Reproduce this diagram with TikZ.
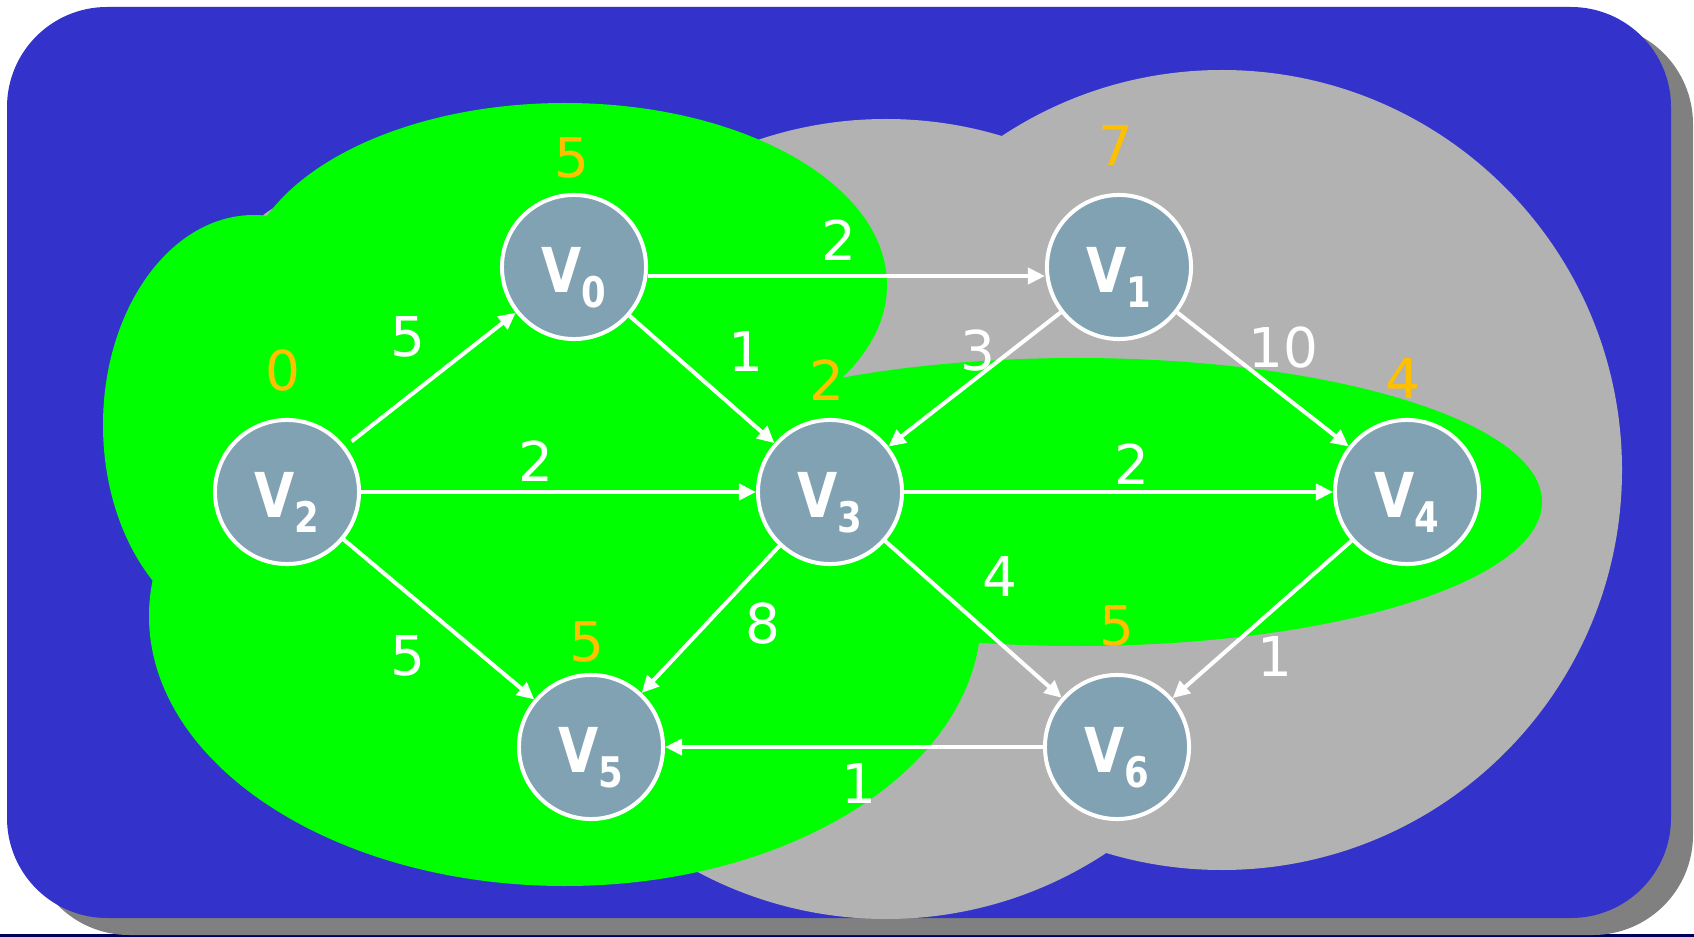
\documentclass[tikz,border=0pt]{standalone}
\usepackage{fontspec}
\setmainfont{DejaVu Sans}
\newfontfamily\vtxfont[FakeStretch=0.84]{DejaVu Sans}
\usetikzlibrary{arrows.meta}
\definecolor{slideblue}{RGB}{51,51,204}
\definecolor{shadowgray}{RGB}{128,128,128}
\definecolor{cloudgray}{RGB}{178,178,178}
\definecolor{cloudgreen}{RGB}{0,255,0}
\definecolor{vtxfill}{RGB}{128,162,179}
\definecolor{distorange}{RGB}{255,192,0}
\definecolor{footnavy}{RGB}{0,0,90}
\newcommand{\vlab}[1]{V\raisebox{-0.15cm}{\fontsize{12}{12}\selectfont #1}}
\tikzset{
  vtx/.style ={circle, draw=white, line width=0.04cm, fill=vtxfill, minimum size=1.44cm, inner sep=0pt,
               text=white, font=\vtxfont\fontsize{17.6}{18}\selectfont\bfseries, text height=0.5cm, text depth=0cm},
  e/.style   ={-{Triangle[length=0.17cm, width=0.16cm]}, draw=white, line width=0.04cm},
  el/.style  ={text=white, font=\fontsize{15.6}{18}\selectfont, inner sep=0pt},
  dist/.style={text=distorange, font=\fontsize{15.6}{18}\selectfont, inner sep=0pt},
}

\begin{document}
\begin{tikzpicture}[x=0.01cm, y=-0.01cm]
\useasboundingbox (0,0) rectangle (1694,937);
%% ---------- slide frame ----------
\fill[footnavy] (0,934) rectangle (1694,937);
\fill[shadowgray, rounded corners=1cm] (29,24) rectangle (1693,935);
\fill[slideblue, rounded corners=1cm] (7,7) rectangle (1671,918);
%% ---------- clouds ----------
% gray: vertices reached later
\fill[cloudgray] (886,519) circle[radius=400];
\fill[cloudgray] (1222,470) circle[radius=400];
\fill[cloudgray] (330,300) circle[radius=108];
% green: vertices already settled
\fill[cloudgreen] (565,285) ellipse[x radius=322, y radius=182];
\fill[cloudgreen] (254,425) ellipse[x radius=151, y radius=210];
\fill[cloudgreen] (565,616) ellipse[x radius=416, y radius=270];
\fill[cloudgreen] (1077,502) ellipse[x radius=465, y radius=144];
%% ---------- vertices ----------
\node[vtx] (v0) at (574,267)  {\vlab{0}};
\node[vtx] (v1) at (1119,267) {\vlab{1}};
\node[vtx] (v2) at (287,492)  {\vlab{2}};
\node[vtx] (v3) at (830,492)  {\vlab{3}};
\node[vtx] (v4) at (1407,492) {\vlab{4}};
\node[vtx] (v5) at (591,747)  {\vlab{5}};
\node[vtx] (v6) at (1117,747) {\vlab{6}};
%% ---------- weighted edges ----------
\draw[e, shorten <=0.08cm] (v2) -- (v0);
\draw[e] ([yshift=-0.09cm]v0.east) -- ([yshift=-0.09cm]v1.west);
\draw[e] (v0) -- (v3);
\draw[e] (v1) -- (v3);
\draw[e] (v1) -- (v4);
\draw[e] (v2) -- (v3);
\draw[e] (v3) -- (v4);
\draw[e] (v2) -- (v5);
\draw[e] (v3) -- (v5);
\draw[e] (v3) -- (v6);
\draw[e] (v4) -- (v6);
\draw[e] (v6) -- (v5);
% weights
\node[el] (w20) at (408,337)  {5};
\node[el] (w01) at (839,240)  {2};
\node[el] (w03) at (746,352)  {1};
\node[el] (w13) at (978,351)  {3};
\node[el] (w14) at (1283,348) {10};
\node[el] (w23) at (536,461)  {2};
\node[el] (w34) at (1132,464) {2};
\node[el] (w25) at (408,656)  {5};
\node[el] (w35) at (763,624)  {8};
\node[el] (w36) at (1000,577) {4};
\node[el] (w46) at (1275,656) {1};
\node[el] (w65) at (859,783)  {1};
%% ---------- distances ----------
\node[dist] (d0) at (572,158)  {5};
\node[dist] (d1) at (1116,146) {7};
\node[dist] (d2) at (283,371)  {0};
\node[dist] (d3) at (827,380)  {2};
\node[dist] (d4) at (1403,379) {4};
\node[dist] (d5) at (587,642)  {5};
\node[dist] (d6) at (1117,626) {5};
\end{tikzpicture}
\end{document}
